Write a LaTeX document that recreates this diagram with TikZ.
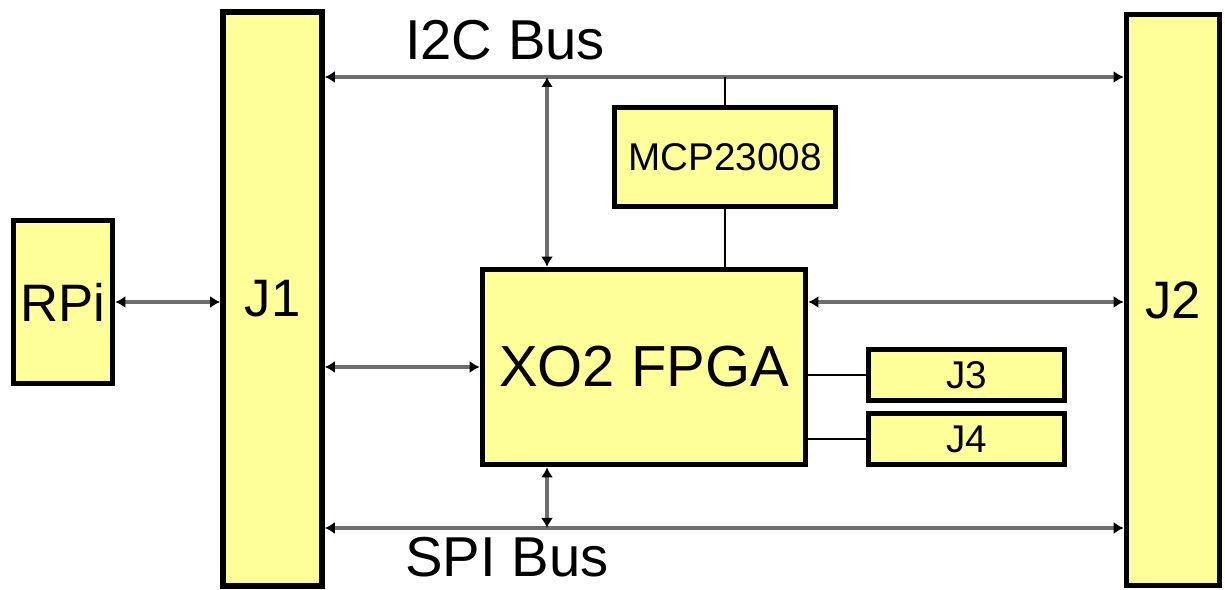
\documentclass[tikz,border=0pt]{standalone}
\usepackage{fontspec}
\setmainfont{Liberation Sans}
\usetikzlibrary{arrows.meta,positioning,calc}
\usepackage{xcolor}
\definecolor{padyellow}{HTML}{FFFF99}
\definecolor{wiregrey}{HTML}{6E6E6E}

\begin{document}
\begin{tikzpicture}[
  x=0.02cm, y=-0.02cm,
  blk/.style={draw=black, fill=padyellow, line width=3.2pt, inner sep=0pt, font=\fontsize{30}{36}\selectfont},
  sblk/.style={blk, font=\fontsize{22}{26}\selectfont},
  lbl/.style={inner sep=0pt, font=\fontsize{32}{38}\selectfont},
  arr/.style={{Latex[length=2mm,width=2.4mm,color=black]}-{Latex[length=2mm,width=2.4mm,color=black]}, draw=wiregrey, line width=2pt},
  tie/.style={draw=black, line width=1.6pt}
]
\useasboundingbox (0,0) rectangle (1225,590);

\node[blk, minimum width=1.98cm, minimum height=3.26cm] (rpi) at (63,302) {RPi};
\node[blk, minimum width=1.98cm, minimum height=11.48cm] (jone) at (272.5,299) {J1};
\node[blk, minimum width=1.86cm, minimum height=11.42cm] (jtwo) at (1173,300) {J2};
\node[sblk, minimum width=4.42cm, minimum height=1.98cm] (mcp) at (725,157) {MCP23008};
\node[blk, minimum width=6.46cm, minimum height=3.9cm, font=\fontsize{33}{40}\selectfont] (fpga) at (644,367) {XO2 FPGA};
\node[sblk, minimum width=3.92cm, minimum height=1.02cm] (jthree) at (966.5,375) {J3};
\node[sblk, minimum width=3.92cm, minimum height=1.02cm] (jfour) at (966.5,439) {J4};

\node[lbl] (i2clbl) at (505,40) {I2C Bus};
\node[lbl] (spilbl) at (507,557) {SPI Bus};

\coordinate (i2c) at (547,77);
\coordinate (spi) at (547,528);

% buses
\draw[arr] (jone.east |- i2c) -- (jtwo.west |- i2c);
\draw[arr] (jone.east |- spi) -- (jtwo.west |- spi);
\draw[arr] (i2c) -- (i2c |- fpga.north);
\draw[arr] (i2c |- fpga.south) -- (spi);

% links
\draw[arr] (rpi.east) -- (rpi.east -| jone.west);
\draw[arr] (fpga.west -| jone.east) -- (fpga.west);
\draw[arr] (fpga.east |- rpi.east) -- (jtwo.west |- rpi.east);
\draw[tie] (jthree.west -| fpga.east) -- (jthree.west);
\draw[tie] (jfour.west -| fpga.east) -- (jfour.west);
\draw[tie] (mcp.north |- i2c) -- (mcp.north);
\draw[tie] (mcp.south) -- (mcp.south |- fpga.north);
\end{tikzpicture}
\end{document}
